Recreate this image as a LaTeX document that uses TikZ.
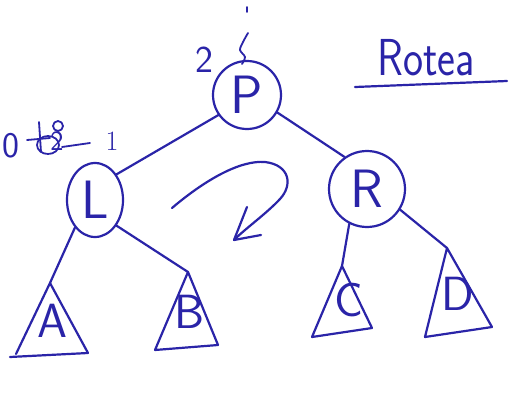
\documentclass[tikz,border=0pt]{standalone}
\usetikzlibrary{shapes.geometric}
\definecolor{ink}{RGB}{42,36,168}
\tikzset{
  pen/.style={draw=ink, line width=2.2pt, line cap=round, line join=round},
  hand/.style={text=ink, inner sep=0pt, font=\sffamily},
  treenode/.style={pen, hand, circle, font=\sffamily\fontsize{54}{54}\selectfont},
  leaflabel/.style={hand, font=\sffamily\fontsize{48}{48}\selectfont},
  note/.style={hand, font=\sffamily\fontsize{#1}{#1}\selectfont},
}
\begin{document}
\begin{tikzpicture}[x=1pt, y=-1pt]
  \clip (0,0) rectangle (512,407);
  \fill[white] (0,0) rectangle (512,407);

  % tree nodes
  \node[treenode, minimum size=68pt] (P) at (247,95) {P};
  \node[treenode, ellipse, minimum width=56pt, minimum height=74pt] (L) at (95,200) {L};
  \node[treenode, minimum size=76pt] (R) at (367,189) {R};

  % subtree apices
  \coordinate (Atop) at (50,283);
  \coordinate (Btop) at (188,272);
  \coordinate (Ctop) at (342,266);
  \coordinate (Dtop) at (447,248);

  % subtrees
  \draw[pen] (Atop) -- (16,354) (10,357) -- (88,353) -- (Atop);
  \draw[pen] (Btop) -- (155,350) -- (218,345) -- (Btop);
  \draw[pen] (Ctop) -- (312,337) -- (372,328) -- (Ctop);
  \draw[pen] (Dtop) -- (425,337) -- (492,327) -- (Dtop);
  \node[leaflabel] (A) at (52,321) {A};
  \node[leaflabel] (B) at (190,312) {B};
  \node[leaflabel] (C) at (349,300) {C};
  \node[leaflabel] (D) at (458,294) {D};

  % edges
  \draw[pen] (P.215) -- (L.50);
  \draw[pen] (P.-30) -- (R.125);
  \draw[pen] (L.234) -- (Atop);
  \draw[pen] (L.-50) -- (Btop);
  \draw[pen] (R.243) -- (Ctop);
  \draw[pen] (R.-32) -- (Dtop);

  % rotation arrow
  \coordinate (tip) at (234,240);
  \draw[pen] (172,208) .. controls (205,180) and (240,160) .. (265,162)
             .. controls (290,165) and (293,185) .. (280,199)
             .. controls (266,214) and (246,228) .. (tip);
  \draw[pen] (247,207) -- (tip) -- (261,235);

  % balance factors
  \node[note=38] (bP) at (204,60) {2};
  \draw[pen, line width=1.8pt] plot[smooth] coordinates {(248,33) (243,42) (240,50) (245,57) (242,64)};
  \draw[pen, line width=1.6pt] (247,7) -- (247,12);

  \node[note=36] (zero) at (11,146) {0};
  \node[note=28] (two) at (57,141) {2};
  \draw[pen, line width=1.8pt] (48,145) ellipse [x radius=11, y radius=9];
  \draw[pen, line width=1.8pt] (58,126) circle [radius=5];
  \draw[pen, line width=1.8pt] (27,140) -- (50,138);
  \draw[pen, line width=1.8pt] (39,122) -- (41,152);
  \draw[pen, line width=1.8pt] (62,147) -- (90,143);
  \node[hand, font=\rmfamily\fontsize{28}{28}\selectfont] (one) at (112,141) {1};

  % heading
  \node[hand, font=\sffamily\fontsize{52}{52}\selectfont, anchor=base west] (title) at (377,75) {\scalebox{0.82}[1]{Rotea}};
  \draw[pen] (355,87) -- (507,81);
\end{tikzpicture}
\end{document}
